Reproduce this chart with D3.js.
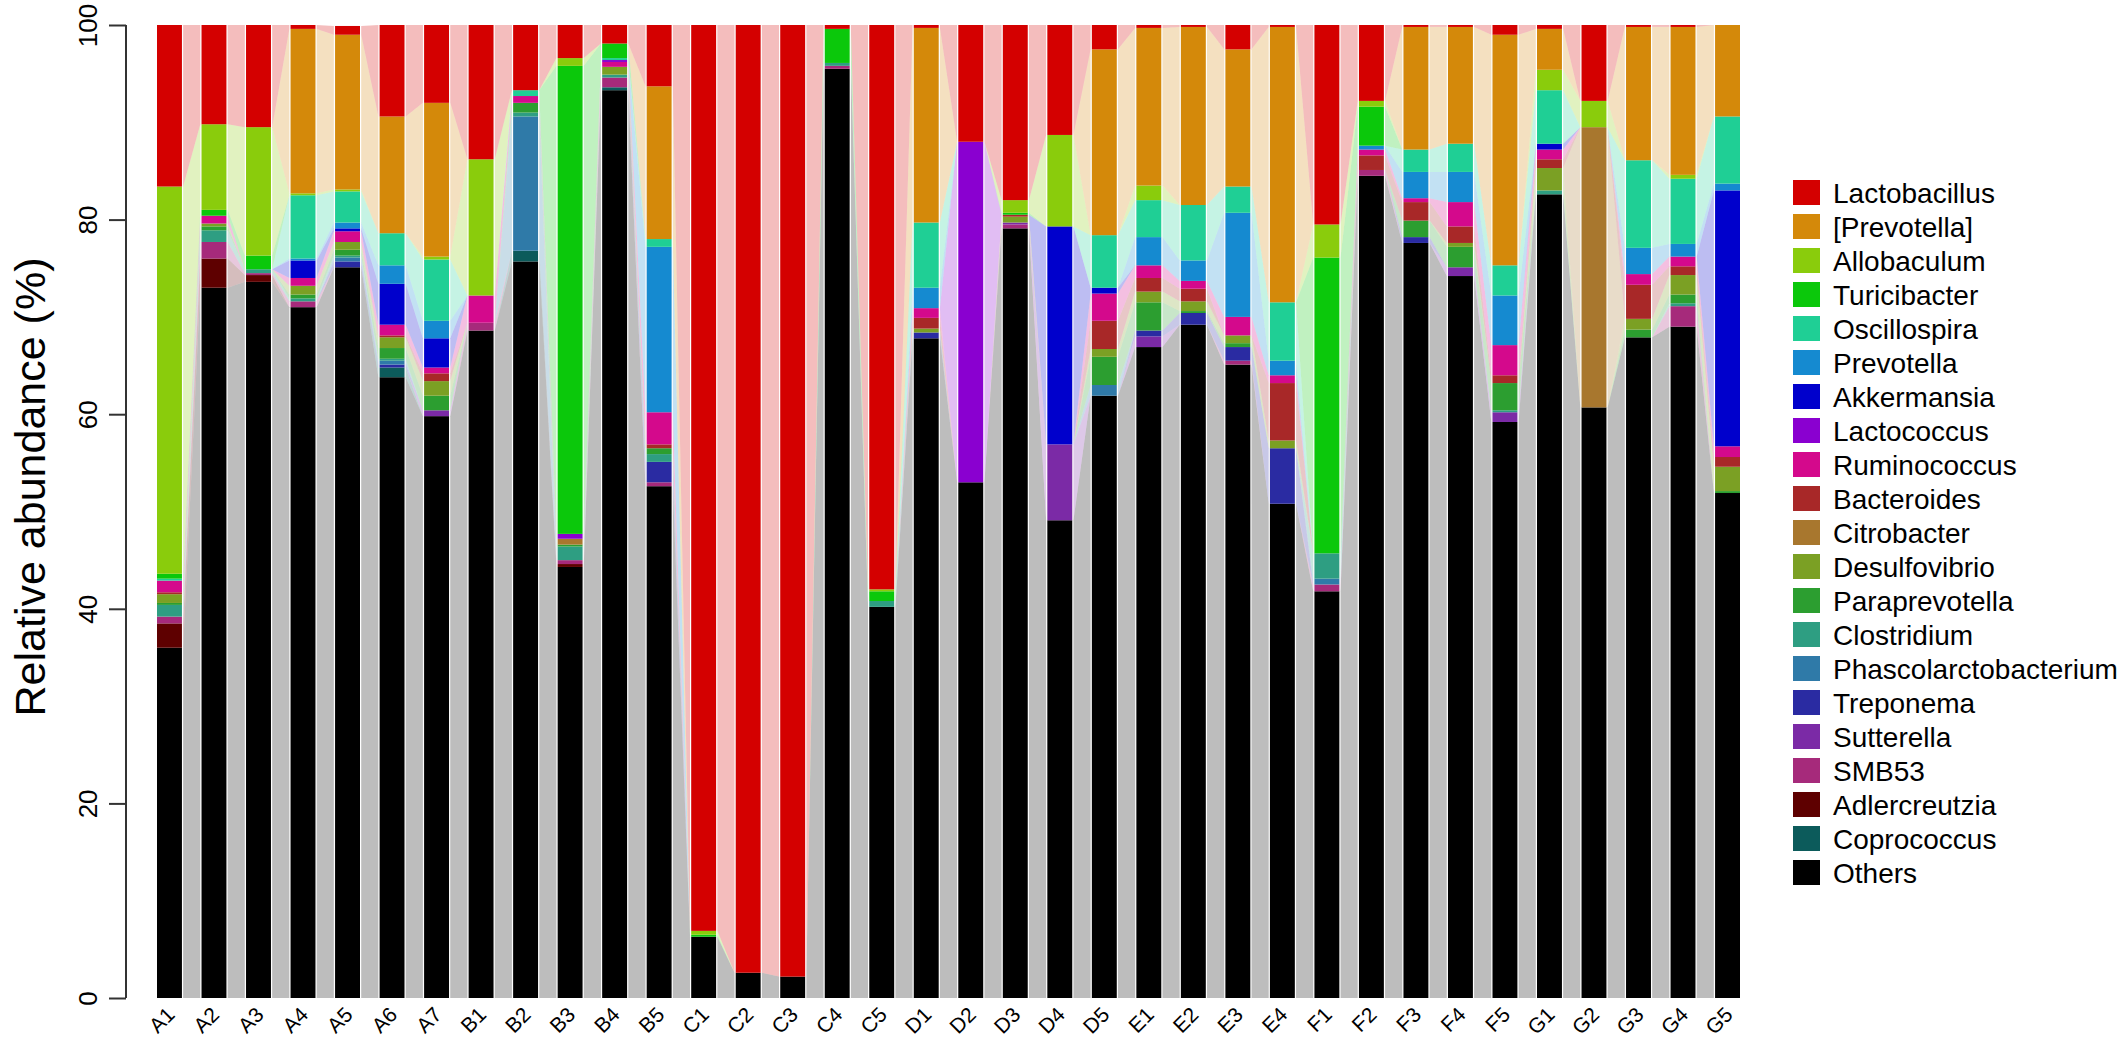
<!DOCTYPE html>
<html><head><meta charset="utf-8">
<script src="https://cdn.jsdelivr.net/npm/d3@7"></script>
<style>html,body{margin:0;padding:0;background:#fff;}svg{display:block;font-family:"Liberation Sans",Arial,sans-serif;}</style>
</head><body><svg id="c" width="2128" height="1043"></svg>
<script>
const samples = ["A1","A2","A3","A4","A5","A6","A7","B1","B2","B3","B4","B5","C1","C2","C3","C4","C5","D1","D2","D3","D4","D5","E1","E2","E3","E4","F1","F2","F3","F4","F5","G1","G2","G3","G4","G5"];
const taxa = ["Lactobacillus","[Prevotella]","Allobaculum","Turicibacter","Oscillospira","Prevotella","Akkermansia","Lactococcus","Ruminococcus","Bacteroides","Citrobacter","Desulfovibrio","Paraprevotella","Clostridium","Phascolarctobacterium","Treponema","Sutterella","SMB53","Adlercreutzia","Coprococcus","Others"];
const taxaColors = ["#d40000","#d4890a","#8acc0c","#0bc80b","#1fcf95","#158ad0","#0000cc","#8a00d0","#d4098c","#a82828","#a8772e","#7ba024","#2c9e30","#2e9e82","#2f7aa8","#2a2ba2","#7b2aa6","#a62a7b","#5e0000","#0c5b5b","#000000"];
const yTicks = [0,20,40,60,80,100];

const lactobacillus = [16.6,10.2,10.5,0.4,0.9,9.4,8.0, 13.8,6.7,3.4,1.9,6.3, 93.1,97.4,97.8,0.4,58.0, 0.3,12.0,18.0,11.3,2.5, 0.3,0.2,2.5,0.2, 20.5,7.8,0.2,0.2,1.0, 0.4,7.8,0.2,0.2,0];
const prevotellaBracket = [0,0,0,16.9,15.9,12.0,15.8, 0,0,0,0,15.7, 0,0,0,0,0, 20.0,0,0,0,19.1, 16.2,18.3,14.1,28.3, 0,0,12.6,12.0,23.7, 4.2,0,13.7,15.2,9.4];
const allobaculum = [39.8,8.8,13.2,0.2,0.2,0,0.3, 14.0,0,0.8,0,0, 0.4,0,0,0,0.2, 0,0,1.3,9.4,0, 1.5,0,0,0, 3.4,0.6,0,0,0, 2.1,2.7,0,0.4,0];
const turicibacter = [0.5,0.6,1.4,0,0,0,0, 0,0,48.1,1.5,0, 0.2,0,0,3.5,1.0, 0,0,0.2,0,0, 0,0,0,0, 30.4,4.0,0,0,0, 0,0,0,0,0];
const oscillospira = [0.2,0,0,6.5,3.2,3.3,6.3, 0,0.6,0,0.2,0.8, 0,0,0,0,0, 6.7,0,0,0,5.4, 3.8,5.7,2.7,6.0, 0,0,2.3,2.9,3.1, 5.5,0,9.0,6.7,6.9];
const prevotella = [0,0,0,0.2,0.6,1.9,1.8, 0,0,0,0,17.0, 0,0,0,0,0, 2.1,0,0,0,0, 2.9,2.1,10.7,1.5, 0,0.4,2.7,3.1,5.1, 0,0,2.7,1.3,0.7];
const akkermansia = [0,0,0,1.8,0.3,4.2,3.0, 0,0,0,0,0, 0,0,0,0,0, 0,0,0,22.4,0.6, 0,0,0,0, 0,0,0,0,0, 0.6,0,0,0,26.3];
const lactococcus = [0,0,0,0,0,0,0, 0,0,0.5,0.2,0, 0,0,0,0,0, 0,35.0,0,0,0, 0,0,0,0, 0,0,0,0,0, 0,0,0,0,0];
const ruminococcus = [1.2,0.8,0,0.8,1.1,1.1,0.6, 2.8,0.7,0,0.5,3.3, 0,0,0,0,0, 1.0,0,0,0,2.8, 1.3,0.8,1.9,0.8, 0,0.6,0.4,2.5,3.1, 1.0,0,1.1,1.0,1.1];
const bacteroides = [0.2,0,0,0,0,0.2,0.8, 0,0,0,0,0.4, 0,0,0,0,0, 1.1,0,0.2,0,2.9, 1.4,1.3,0,5.9, 0,1.5,1.9,1.7,0.8, 0.9,0,3.5,0.9,1.0];
const citrobacter = [0,0,0,0,0,0,0, 0,0,0.6,0,0, 0,0,0,0,0, 0,0,0,0,0, 0,0,0,0, 0,0,0,0,0, 0,28.8,0,0,0];
const desulfovibrio = [0.9,0.3,0,0.9,0.8,1.1,1.5, 0,0,0,0.8,0, 0,0,0,0,0, 0.4,0,0.6,0,0.8, 1.1,1.0,0.8,0.8, 0,0,0,0.4,0, 2.3,0,1.1,2.0,2.5];
const paraprevotella = [0.2,0.4,0,0.4,0.6,1.1,1.5, 0,1.0,0.2,0,0.6, 0,0,0,0,0, 0,0,0,0,2.9, 2.9,0.2,0.4,0, 0,0,1.7,2.1,2.8, 0,0,0.8,0.9,0.2];
const clostridium = [1.2,1.2,0.4,0.3,0.2,0.2,0, 0,0.4,1.4,0.3,0.8, 0,0,0,0.3,0.6, 0,0,0,0,0, 0,0,0,0, 2.6,0,0,0,0.2, 0.4,0,0,0.3,0];
const phascolarctobacterium = [0,0,0,0,0.4,0.4,0, 0,13.8,0,0,0, 0,0,0,0,0, 0,0,0,0,1.1, 0,0,0,0, 0.6,0,0,0,0, 0,0,0,0,0];
const treponema = [0,0,0,0,0.6,0.3,0, 0,0,0,0,2.1, 0,0,0,0,0, 0.6,0,0,0,0, 0.6,1.2,1.4,5.7, 0,0,0.6,0,0, 0,0,0,0,0];
const sutterella = [0,0,0,0,0,0,0.6, 0,0,0,0,0, 0,0,0,0,0, 0,0,0.2,7.8,0, 1.1,0,0,0, 0,0,0,0.9,1.0, 0,0,0,0,0];
const smb53 = [0.7,1.7,0.2,0.6,0,0,0, 0.8,0,0.4,1.0,0.4, 0,0,0,0.3,0, 0,0,0.4,0,0, 0,0,0.4,0, 0.7,0.6,0,0,0, 0,0,0,2.1,0];
const adlercreutzia = [2.5,3.0,0.7,0,0,0,0, 0,0,0.3,0,0, 0,0,0,0,0, 0,0,0,0,0, 0,0,0,0, 0,0,0,0,0, 0,0,0,0,0];
const coprococcus = [0,0,0,0,0,1.0,0, 0,1.1,0,0.3,0, 0,0,0,0,0, 0,0,0,0,0, 0,0,0,0, 0,0,0,0,0, 0,0,0,0,0];
const others = [36.0,73.0,73.6,71.0,75.1,63.8,59.8, 68.6,75.7,44.3,93.3,52.6, 6.3,2.6,2.2,95.5,40.2, 67.8,53.0,79.1,49.1,61.9, 66.9,69.2,65.1,50.8, 41.8,84.5,77.6,74.2,59.2, 82.6,60.7,67.9,69.0,51.9];

const seriesArrays = [lactobacillus,prevotellaBracket,allobaculum,turicibacter,oscillospira,prevotella,akkermansia,lactococcus,ruminococcus,bacteroides,citrobacter,desulfovibrio,paraprevotella,clostridium,phascolarctobacterium,treponema,sutterella,smb53,adlercreutzia,coprococcus,others];

// table for d3.stack
const table = samples.map((s, i) => {
  const row = {sample: s};
  taxa.forEach((t, k) => { row[t] = seriesArrays[k][i]; });
  return row;
});
const color = d3.scaleOrdinal().domain(taxa).range(taxaColors);
const stackKeys = taxa.slice().reverse(); // Others at bottom
const stacked = d3.stack().keys(stackKeys)(table);

const svg = d3.select("#c");
const x = d3.scaleBand().domain(samples).range([157, 1740]).paddingInner(0.44).paddingOuter(0);
const y = d3.scaleLinear().domain([0, 100]).range([998, 25]);
const bw = x.bandwidth();
const gap = 1.2;

// flows between bars
const area = d3.area().x(d => d.x).y0(d => y(d.y0)).y1(d => y(Math.min(100, d.y1))).curve(d3.curveLinear);
const flowG = svg.append("g");
stacked.forEach(layer => {
  for (let i = 0; i < samples.length - 1; i++) {
    const a = layer[i], b = layer[i + 1];
    if (a[1] - a[0] <= 0 && b[1] - b[0] <= 0) continue;
    const pts = [
      {x: x(samples[i]) + bw + gap, y0: a[0], y1: a[1]},
      {x: x(samples[i + 1]) - gap, y0: b[0], y1: b[1]}
    ];
    flowG.append("path").attr("d", area(pts))
      .attr("fill", color(layer.key)).attr("fill-opacity", 0.26);
  }
});

// bars
const barG = svg.append("g");
stacked.forEach(layer => {
  barG.selectAll(null).data(layer.filter(d => d[1] - d[0] > 0)).enter().append("rect")
    .attr("x", d => x(d.data.sample))
    .attr("width", bw)
    .attr("y", d => y(Math.min(100, d[1])))
    .attr("height", d => Math.max(0, y(d[0]) - y(Math.min(100, d[1]))))
    .attr("fill", color(layer.key));
});

// y axis
const yAxis = d3.axisLeft(y).tickValues(yTicks).tickSize(17).tickPadding(6);
const ya = svg.append("g").attr("transform", "translate(126,0)").call(yAxis);
ya.select(".domain").attr("stroke", "#333").attr("stroke-width", 2).attr("d", `M0,${y(0)}V${y(100)}`);
ya.selectAll(".tick line").attr("stroke", "#333").attr("stroke-width", 2);
ya.selectAll(".tick text").attr("font-size", 26).attr("fill", "#000")
  .attr("text-anchor", "middle").attr("x", null).attr("dy", null)
  .attr("transform", d => `translate(-29,0) rotate(-90)`);

svg.append("text").attr("transform", `translate(45,${487}) rotate(-90)`)
  .attr("text-anchor", "middle").attr("font-size", 43).attr("fill", "#000")
  .text("Relative abundance (%)");

// x labels
const xa = svg.append("g");
xa.selectAll("text").data(samples).enter().append("text")
  .attr("transform", d => `translate(${x(d) + bw / 2 + 6.5},1016) rotate(-45)`)
  .attr("text-anchor", "end").attr("font-size", 21).attr("fill", "#000")
  .text(d => d);

// legend
const lg = svg.append("g");
taxa.forEach((t, i) => {
  const cy = 193 + 34 * i;
  lg.append("rect").attr("x", 1793).attr("y", cy - 13).attr("width", 27).attr("height", 25).attr("fill", color(t));
  lg.append("text").attr("x", 1833).attr("y", cy + 10).attr("font-size", 28).attr("fill", "#000").text(t);
});
</script></body></html>
